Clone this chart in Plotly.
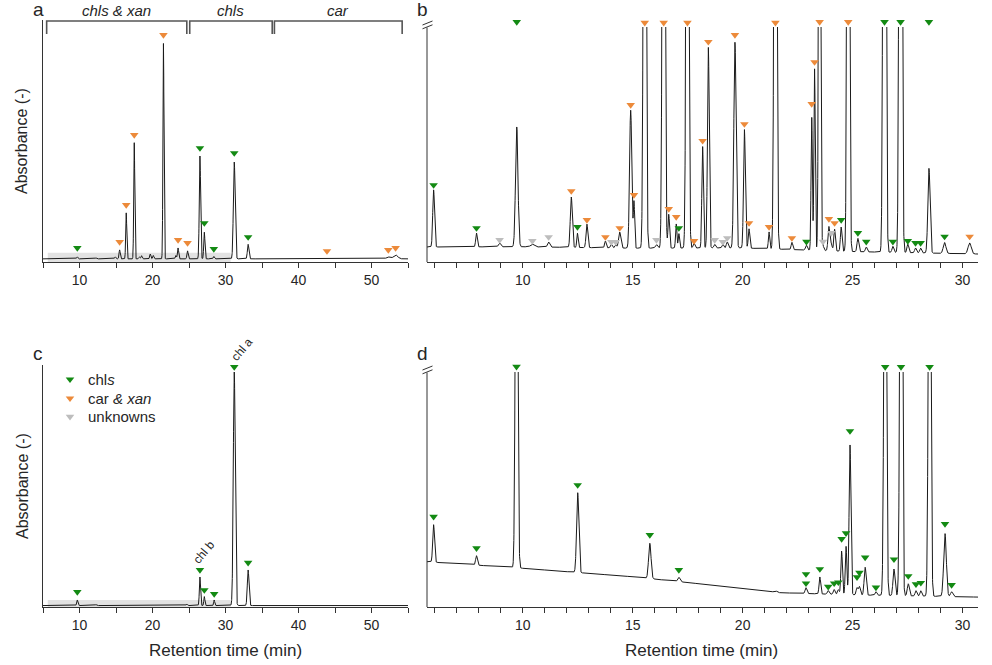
import numpy as np
import plotly.graph_objects as go

# ---------------- DATA ----------------
# Panel a: full chromatogram (x 5-55 min), heights in % of panel height
a_base_t = [5, 55]
a_base_u = [1.3, 1.3]
a_peak_t = [9.7, 12.3, 14.9, 15.5, 16.4, 17.5, 18.2, 18.5, 19.7, 20.1, 21.5, 23.2, 23.5, 24.8,
            26.5, 27.1, 28.4, 31.2, 33.1, 52.3, 53.3]
a_peak_h = [0.8, 0.4, 0.8, 3.7, 19, 48, 0.8, 1.3, 2.0, 1.4, 89, 1.4, 4.5, 3.3,
            42.5, 11, 1.0, 40, 6.0, 0.8, 1.6]
a_peak_w = [0.08, 0.08, 0.08, 0.08, 0.07, 0.07, 0.08, 0.08, 0.08, 0.08, 0.07, 0.08, 0.08, 0.08,
            0.09, 0.08, 0.08, 0.12, 0.10, 0.25, 0.30]
a_mk_t = [9.7, 15.5, 16.4, 17.5, 21.5, 23.5, 24.8, 26.5, 27.1, 28.4, 31.2, 33.1, 43.9, 52.3, 53.3]
a_mk_u = [5.8, 8.3, 23.6, 52.5, 93.8, 9.1, 7.9, 47.1, 16.1, 5.4, 45.0, 10.3, 4.5, 5.0, 5.8]
a_mk_c = ['chl', 'car', 'car', 'car', 'car', 'car', 'car', 'chl', 'chl', 'chl', 'chl', 'chl',
          'car', 'car', 'car']

# Panel b: zoom of panel a (5.65-30.7 min)
b_base_t = [5.65, 10, 15, 20, 25, 30.7]
b_base_u = [6.2, 6.3, 5.7, 5.8, 4.3, 3.3]
b_peak_t = [5.95, 7.9, 8.95, 9.73, 10.44, 11.18, 12.21, 12.49, 12.92, 13.76, 14.03, 14.23, 14.41,
            14.91, 15.06, 15.55, 16.08, 16.41, 16.64, 16.98, 17.1, 17.49, 17.79, 18.18, 18.44,
            18.73, 19.1, 19.3, 19.65, 20.08, 20.29, 21.2, 21.49, 22.24, 22.9, 23.14, 23.27, 23.5,
            23.65, 23.92, 24.03, 24.18, 24.48, 24.8, 25.24, 25.62, 26.45, 26.83, 27.18, 27.51,
            27.86, 28.09, 28.47, 29.18, 30.32]
b_peak_h = [23.6, 5.7, 1.6, 49.5, 1.1, 2.1, 20.8, 5.9, 9.7, 2.8, 1.5, 1.2, 6.6,
            57, 19, 400, 1.5, 400, 14, 10, 6, 350, 2, 42, 83,
            1.5, 1.5, 2.5, 85, 49, 8, 7, 400, 3, 2, 55, 75, 300,
            2, 10, 3, 9, 10, 500, 5.5, 2, 600, 2.5, 600, 3.5,
            2, 2, 35, 4.5, 4.5]
b_peak_w = [0.04, 0.035, 0.05, 0.055, 0.08, 0.05, 0.045, 0.03, 0.04, 0.035, 0.04, 0.04, 0.05,
            0.05, 0.03, 0.05, 0.05, 0.05, 0.035, 0.03, 0.03, 0.05, 0.04, 0.035, 0.04,
            0.04, 0.04, 0.04, 0.05, 0.04, 0.035, 0.03, 0.05, 0.035, 0.04, 0.03, 0.03, 0.04,
            0.04, 0.04, 0.04, 0.035, 0.035, 0.045, 0.04, 0.04, 0.05, 0.04, 0.05, 0.04,
            0.04, 0.04, 0.05, 0.06, 0.07]
b_mk_t = b_peak_t
b_mk_u = [31.8, 14.0, 9.1, 99.2, 8.7, 10.3, 29.3, 14.5, 17.4, 10.3, 8.3, 8.3, 14.0,
          64.9, 27.7, 98.9, 9.1, 98.9, 21.9, 18.6, 14.0, 98.9, 8.7, 50.1, 91.0,
          9.1, 8.3, 9.9, 93.8, 57.0, 16.1, 14.5, 98.9, 9.9, 8.4, 65.3, 82.6, 99.2,
          8.4, 17.8, 12.0, 16.1, 17.4, 99.2, 12.0, 8.4, 99.2, 8.4, 99.2, 8.7,
          7.9, 7.9, 99.2, 10.5, 10.5]
b_mk_c = ['chl', 'chl', 'unk', 'chl', 'unk', 'unk', 'car', 'chl', 'car', 'car', 'unk', 'unk', 'car',
          'car', 'car', 'car', 'unk', 'car', 'car', 'car', 'chl', 'car', 'car', 'car', 'car',
          'unk', 'unk', 'unk', 'car', 'car', 'car', 'car', 'car', 'car', 'chl', 'car', 'car', 'car',
          'unk', 'car', 'unk', 'car', 'chl', 'car', 'chl', 'chl', 'chl', 'chl', 'chl', 'chl',
          'chl', 'chl', 'chl', 'chl', 'car']

# Panel c: chlorophyll-specific chromatogram (5-55 min)
c_base_t = [5, 55]
c_base_u = [0.6, 0.6]
c_peak_t = [9.7, 12.3, 24.7, 26.5, 27.1, 28.45, 31.2, 33.1]
c_peak_h = [2.3, 0.4, 0.6, 11.8, 3.7, 2.3, 96.5, 14.7]
c_peak_w = [0.08, 0.08, 0.08, 0.08, 0.07, 0.07, 0.13, 0.11]
c_mk_t = [9.7, 26.5, 27.1, 28.45, 31.2, 33.1]
c_mk_u = [6.2, 15.3, 7.0, 5.4, 99.2, 18.3]
c_mk_c = ['chl'] * 6

# Panel d: zoom of panel c (5.65-30.7 min)
d_base_t = [5.65, 10, 15, 20, 21.7, 25, 30.7]
d_base_u = [18.7, 16.0, 12.5, 7.7, 5.9, 5.0, 4.1]
d_peak_t = [5.95, 7.9, 9.72, 12.5, 15.78, 17.1, 21.5, 22.88, 23.51, 23.89, 24.16, 24.35, 24.5,
            24.7, 24.88, 25.2, 25.31, 25.57, 26.06, 26.48, 26.88, 27.2, 27.53, 27.88, 28.1,
            28.5, 29.2, 29.5]
d_peak_h = [15.5, 3.9, 220, 33, 14.6, 1.8, 0.6, 2.4, 7, 1.5, 2, 2, 18,
            20, 62, 3, 3.5, 11.5, 1.5, 250, 11, 250, 5, 2.2, 2.2,
            250, 26, 2]
d_peak_w = [0.04, 0.04, 0.05, 0.05, 0.055, 0.05, 0.06, 0.04, 0.035, 0.04, 0.04, 0.04, 0.035,
            0.035, 0.04, 0.04, 0.04, 0.045, 0.04, 0.05, 0.045, 0.05, 0.045, 0.04, 0.04,
            0.05, 0.06, 0.05]
d_mk_t = [5.95, 7.9, 9.72, 12.5, 15.78, 17.1, 22.88, 22.88, 23.51, 23.89, 24.16, 24.35, 24.5,
          24.7, 24.88, 25.2, 25.31, 25.57, 26.06, 26.48, 26.88, 27.2, 27.53, 27.88, 28.1,
          28.5, 29.2, 29.5]
d_mk_u = [37.3, 24.3, 99.3, 50.4, 29.8, 15.3, 13.6, 9.8, 15.7, 8.4, 9.8, 10.2, 28.1,
          30.5, 72.7, 12.3, 14.2, 20.5, 8.1, 99.2, 19.7, 99.2, 12.8, 9.4, 10.0,
          99.2, 34.3, 9.1]
d_mk_c = ['chl'] * len(d_mk_t)

# bracket regions on panel a
region_label = ['chls &amp; xan', 'chls', 'car']
region_start = [5.5, 25.1, 36.7]
region_end = [24.7, 36.4, 54.2]

full_range = [5, 55]
zoom_range = [5.65, 30.7]

class_names = {'chl': 'chl<i>s</i>', 'car': 'car <i>&amp; xan</i>', 'unk': 'unknowns'}
COL = {'chl': '#138a13', 'car': '#ec8a3a', 'unk': '#bdbdbd'}

# ---------------- LAYOUT HELPERS ----------------
W, H = 992, 665
def fx(p): return p / W
def fy(p): return 1 - p / H

TOP = (20, 262)
BOT = (365, 607)
LX = (43, 408)
RX = (427, 978)
CLIP = 7            # broken axes (b, d) are clipped this many px below the row top
UPX = (TOP[1] - TOP[0]) / 100.0   # px per unit
FONT = 'Liberation Sans, Arial, sans-serif'
INK = '#262626'
AX = '#333333'


def chrom(t, bt, bu, pt, ph, pw):
    y = np.interp(t, bt, bu)
    for c, h, w in zip(pt, ph, pw):
        y = y + h * np.exp(-0.5 * ((t - c) / w) ** 2)
    return y


fig = go.Figure()

# (line axes, marker axes, ...)
panels = [
    ('x', 'y', 'x', 'y', full_range, 0.01, a_base_t, a_base_u, a_peak_t, a_peak_h, a_peak_w, a_mk_t, a_mk_u, a_mk_c),
    ('x2', 'y2', 'x5', 'y5', zoom_range, 0.004, b_base_t, b_base_u, b_peak_t, b_peak_h, b_peak_w, b_mk_t, b_mk_u, b_mk_c),
    ('x3', 'y3', 'x3', 'y3', full_range, 0.01, c_base_t, c_base_u, c_peak_t, c_peak_h, c_peak_w, c_mk_t, c_mk_u, c_mk_c),
    ('x4', 'y4', 'x6', 'y6', zoom_range, 0.004, d_base_t, d_base_u, d_peak_t, d_peak_h, d_peak_w, d_mk_t, d_mk_u, d_mk_c),
]

for xa, ya, mxa, mya, rng, step, bt, bu, pt, ph, pw, mt, mu, mc in panels:
    t = np.arange(rng[0], rng[1] + step, step)
    fig.add_trace(go.Scatter(x=t, y=chrom(t, bt, bu, pt, ph, pw), mode='lines',
                             line=dict(color='#1a1a1a', width=1), xaxis=xa, yaxis=ya,
                             showlegend=False, hoverinfo='skip'))
    fig.add_trace(go.Scatter(x=mt, y=mu, mode='markers', xaxis=mxa, yaxis=mya,
                             marker=dict(symbol='triangle-down', size=7.5,
                                         color=[COL[c] for c in mc], line=dict(width=0)),
                             cliponaxis=False, showlegend=False))

# legend (drawn in panel c, positions given in pixels and converted)
def c_t(px): return full_range[0] + (px - LX[0]) / (LX[1] - LX[0]) * (full_range[1] - full_range[0])
def c_u(py): return (BOT[1] - py) / UPX

leg_keys = ['chl', 'car', 'unk']
leg_py = [379.3, 398.3, 416.7]
fig.add_trace(go.Scatter(x=[c_t(70)] * 3, y=[c_u(p) for p in leg_py], mode='markers',
                         xaxis='x3', yaxis='y3', cliponaxis=False, showlegend=False,
                         marker=dict(symbol='triangle-down', size=7.5,
                                     color=[COL[k] for k in leg_keys])))

annotations = []
for k, p in zip(leg_keys, leg_py):
    annotations.append(dict(x=fx(86), y=fy(p), xref='paper', yref='paper', text=class_names[k],
                            showarrow=False, xanchor='left', yanchor='middle',
                            font=dict(size=15, color=INK, family=FONT)))

# panel letters
for letter, px, py in [('a', 38, 9), ('b', 422, 9), ('c', 38, 353), ('d', 422, 353)]:
    annotations.append(dict(x=fx(px), y=fy(py), xref='paper', yref='paper', text=letter,
                            showarrow=False, xanchor='center', yanchor='middle',
                            font=dict(size=19, color=INK, family=FONT)))

# axis titles
for cy in [(TOP[0] + TOP[1]) / 2, (BOT[0] + BOT[1]) / 2]:
    annotations.append(dict(x=fx(22), y=fy(cy), xref='paper', yref='paper', text='Absorbance (-)',
                            showarrow=False, textangle=-90, xanchor='center', yanchor='middle',
                            font=dict(size=16, color=INK, family=FONT)))
for cx in [(LX[0] + LX[1]) / 2 - 0.5, (RX[0] + RX[1]) / 2 - 1.5]:
    annotations.append(dict(x=fx(cx), y=fy(650), xref='paper', yref='paper',
                            text='Retention time (min)', showarrow=False,
                            xanchor='center', yanchor='middle',
                            font=dict(size=17, color=INK, family=FONT)))

# region labels + brackets on panel a
shapes = []
for lab, s, e in zip(region_label, region_start, region_end):
    annotations.append(dict(x=(s + e) / 2, y=fy(10), xref='x', yref='paper', text='<i>' + lab + '</i>',
                            showarrow=False, xanchor='center', yanchor='middle',
                            font=dict(size=15, color=INK, family=FONT)))
    shapes.append(dict(type='path', xref='x', yref='paper',
                       path=f'M {s},{fy(34)} L {s},{fy(21)} L {e},{fy(21)} L {e},{fy(34)}',
                       line=dict(color='#555555', width=1.6)))

# chl a / chl b labels in panel c
for lab, tt, uu, xs, ys in [('chl b', 26.5, 15.3, 4, 18), ('chl a', 31.2, 99.2, 8, 18)]:
    annotations.append(dict(x=tt, y=uu, xref='x3', yref='y3', text=lab, showarrow=False,
                            textangle=-50, xshift=xs, yshift=ys, xanchor='center', yanchor='middle',
                            font=dict(size=12, color=INK, family=FONT)))

# grey zoom-window band on panels a and c
shapes.append(dict(type='rect', xref='x', yref='y', x0=zoom_range[0], x1=zoom_range[1], y0=0, y1=3.8,
                   fillcolor='#e2e2e2', line=dict(width=0), layer='below'))
shapes.append(dict(type='rect', xref='x3', yref='y3', x0=zoom_range[0], x1=zoom_range[1], y0=0, y1=2.9,
                   fillcolor='#e2e2e2', line=dict(width=0), layer='below'))

# broken y axes on panels b and d
for top, bot in [TOP, BOT]:
    shapes.append(dict(type='line', xref='paper', yref='paper', x0=fx(RX[0]), x1=fx(RX[0]),
                       y0=fy(top + 7.5), y1=fy(bot), line=dict(color=AX, width=1)))
    for off in (0, 3.8):
        shapes.append(dict(type='line', xref='paper', yref='paper', x0=fx(RX[0] - 4.5), x1=fx(RX[0] + 5.5),
                           y0=fy(top + 5 + off), y1=fy(top + 1 + off), line=dict(color=AX, width=1)))

xcommon = dict(showline=True, linecolor=AX, linewidth=1, ticks='outside', ticklen=5, tickwidth=1,
               tickcolor=AX, showgrid=False, zeroline=False,
               tickfont=dict(size=14, color=INK, family=FONT))
ycommon = dict(showgrid=False, zeroline=False, showticklabels=False, ticks='')
hidden = dict(visible=False, showgrid=False, zeroline=False)
brk_top_u = 100 - CLIP / UPX

fig.update_layout(
    width=W, height=H, margin=dict(l=0, r=0, t=0, b=0),
    paper_bgcolor='white', plot_bgcolor='rgba(0,0,0,0)',
    font=dict(family=FONT, color=INK),
    xaxis=dict(domain=[fx(LX[0]), fx(LX[1])], range=full_range, anchor='y', dtick=10, tick0=0,
               minor=dict(dtick=5, ticks='outside', ticklen=5, tickcolor=AX, showgrid=False), **xcommon),
    yaxis=dict(domain=[fy(TOP[1]), fy(TOP[0])], range=[0, 100], anchor='x', showline=True,
               linecolor=AX, linewidth=1, **ycommon),
    xaxis2=dict(domain=[fx(RX[0]), fx(RX[1])], range=zoom_range, anchor='y2', dtick=5, tick0=0,
                minor=dict(dtick=1, ticks='outside', ticklen=5, tickcolor=AX, showgrid=False), **xcommon),
    yaxis2=dict(domain=[fy(TOP[1]), fy(TOP[0] + CLIP)], range=[0, brk_top_u], anchor='x2',
                showline=False, **ycommon),
    xaxis3=dict(domain=[fx(LX[0]), fx(LX[1])], range=full_range, anchor='y3', dtick=10, tick0=0,
                minor=dict(dtick=5, ticks='outside', ticklen=5, tickcolor=AX, showgrid=False), **xcommon),
    yaxis3=dict(domain=[fy(BOT[1]), fy(BOT[0])], range=[0, 100], anchor='x3', showline=True,
                linecolor=AX, linewidth=1, **ycommon),
    xaxis4=dict(domain=[fx(RX[0]), fx(RX[1])], range=zoom_range, anchor='y4', dtick=5, tick0=0,
                minor=dict(dtick=1, ticks='outside', ticklen=5, tickcolor=AX, showgrid=False), **xcommon),
    yaxis4=dict(domain=[fy(BOT[1]), fy(BOT[0] + CLIP)], range=[0, brk_top_u], anchor='x4',
                showline=False, **ycommon),
    # marker layers for the broken-axis panels (full row height, unclipped top)
    xaxis5=dict(domain=[fx(RX[0]), fx(RX[1])], range=zoom_range, anchor='y5', **hidden),
    yaxis5=dict(domain=[fy(TOP[1]), fy(TOP[0])], range=[0, 100], anchor='x5', **hidden),
    xaxis6=dict(domain=[fx(RX[0]), fx(RX[1])], range=zoom_range, anchor='y6', **hidden),
    yaxis6=dict(domain=[fy(BOT[1]), fy(BOT[0])], range=[0, 100], anchor='x6', **hidden),
    annotations=annotations, shapes=shapes, showlegend=False,
)

fig.write_html('out.html')
